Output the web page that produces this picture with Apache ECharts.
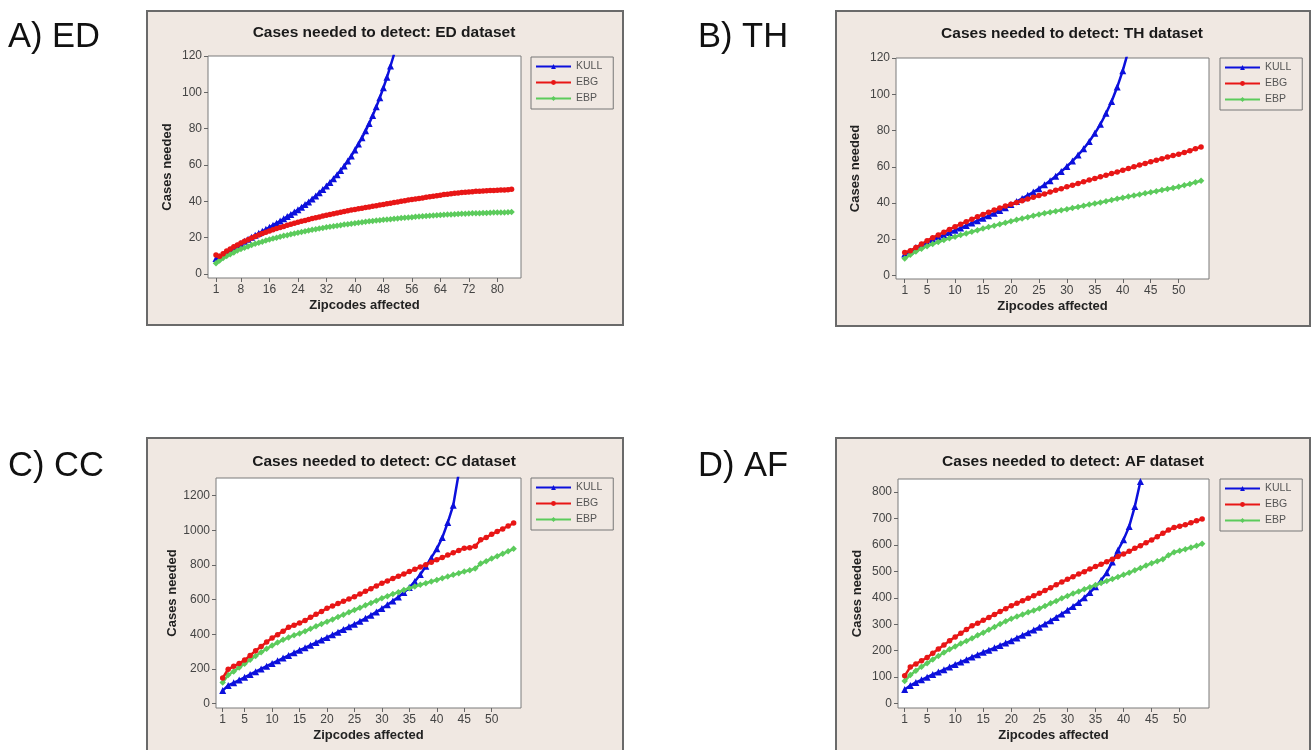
<!DOCTYPE html>
<html><head><meta charset="utf-8">
<script src="https://cdn.jsdelivr.net/npm/echarts@6.0.0/dist/echarts.min.js"></script>
<style>html,body{margin:0;padding:0;background:#fff}#c{width:1312px;height:750px}</style>
</head><body><div id="c"></div><script>
// ---------------- data ----------------
const seriesNames = ['KULL', 'EBG', 'EBP'];
const panelTitles = ['Cases needed to detect: ED dataset', 'Cases needed to detect: TH dataset',
  'Cases needed to detect: CC dataset', 'Cases needed to detect: AF dataset'];
const panelLabels = ['A) ED', 'B) TH', 'C) CC', 'D) AF'];
const xTitle = 'Zipcodes affected';
const yTitle = 'Cases needed';

const xTicksA = [1, 8, 16, 24, 32, 40, 48, 56, 64, 72, 80];
const xTicksOther = [1, 5, 10, 15, 20, 25, 30, 35, 40, 45, 50];
const yTicksA = [0, 20, 40, 60, 80, 100, 120];
const yTicksB = [0, 20, 40, 60, 80, 100, 120];
const yTicksC = [0, 200, 400, 600, 800, 1000, 1200];
const yTicksD = [0, 100, 200, 300, 400, 500, 600, 700, 800];

// A) ED
const kullA = [8.5, 9.5, 10.8, 12, 13.2, 14.4, 15.6, 16.8, 18, 19.1, 20.2, 21.3, 22.4, 23.5, 24.6, 25.7, 26.9, 28, 29.2, 30.4,
  31.6, 32.8, 34.1, 35.4, 36.8, 38.2, 39.7, 41.3, 43, 44.7, 46.5, 48.4, 50.4, 52.5, 54.7, 57, 59.5, 62.2, 65, 68.2,
  71.5, 75, 78.8, 82.9, 87.3, 92, 97, 102.5, 108.3, 114.5, 121];
const ebgA = [10.5, 9.8, 11.2, 12.6, 13.8, 15, 16, 17, 18, 18.9, 19.8, 20.7, 21.5, 22.3, 23, 23.7, 24.4, 25, 25.6, 26.2,
  26.8, 27.4, 27.9, 28.5, 29, 29.5, 30, 30.5, 31, 31.4, 31.9, 32.3, 32.8, 33.2, 33.6, 34, 34.4, 34.8, 35.2, 35.5,
  35.9, 36.2, 36.6, 36.9, 37.3, 37.6, 38, 38.3, 38.7, 39, 39.4, 39.7, 40, 40.3, 40.7, 41, 41.3, 41.6, 41.9, 42.2,
  42.5, 42.8, 43.1, 43.4, 43.7, 43.9, 44.2, 44.4, 44.6, 44.8, 45, 45.2, 45.3, 45.5, 45.6, 45.7, 45.8, 45.9, 46, 46.1,
  46.2, 46.3, 46.4, 46.6];
const ebpA = [5.9, 7.5, 8.8, 9.9, 10.9, 11.9, 12.9, 13.8, 14.5, 15.2, 15.9, 16.6, 17.2, 17.8, 18.4, 19, 19.5, 20, 20.5, 21,
  21.4, 21.9, 22.3, 22.7, 23.1, 23.5, 23.9, 24.3, 24.6, 25, 25.3, 25.7, 26, 26.3, 26.6, 26.9, 27.2, 27.4, 27.7, 28,
  28.2, 28.5, 28.7, 29, 29.2, 29.4, 29.6, 29.8, 30, 30.2, 30.4, 30.6, 30.8, 31, 31.1, 31.3, 31.5, 31.6, 31.8, 31.9,
  32.1, 32.2, 32.4, 32.5, 32.6, 32.7, 32.8, 32.9, 33, 33.1, 33.2, 33.3, 33.4, 33.4, 33.5, 33.6, 33.6, 33.7, 33.8, 33.8,
  33.9, 33.9, 34, 34.1];

// B) TH
const kullB = [12, 13.5, 15.5, 17, 18.5, 20, 21.3, 22.5, 23.8, 25, 26.3, 27.7, 29, 30.3, 31.7, 33, 34.5, 36, 37.5, 39.2,
  40.9, 42.6, 44.3, 46.1, 48, 50.1, 52.4, 54.8, 57.4, 60.2, 63.2, 66.5, 70, 74, 78.5, 83.5, 89.5, 96, 104, 113, 124];
const ebgB = [12.8, 13.8, 15.5, 17.5, 19.3, 21, 22.5, 24, 25.5, 27, 28.4, 29.8, 31.1, 32.5, 33.8, 35, 36.2, 37.3, 38.4, 39.4,
  40.4, 41.3, 42.3, 43.2, 44.2, 45.1, 46.1, 47.1, 48, 49, 49.9, 50.8, 51.8, 52.7, 53.6, 54.5, 55.4, 56.3, 57.2, 58.2,
  59.1, 60, 61, 61.9, 62.8, 63.7, 64.5, 65.4, 66.2, 67, 67.9, 68.9, 70, 71];
const ebpB = [9.5, 11.5, 13.3, 14.9, 16.3, 17.5, 18.6, 19.7, 20.6, 21.5, 22.4, 23.3, 24.2, 25.1, 26, 26.8, 27.6, 28.4, 29.2, 30,
  30.8, 31.5, 32.3, 33.1, 33.8, 34.4, 35, 35.6, 36.1, 36.7, 37.3, 37.9, 38.6, 39.2, 39.8, 40.4, 41.1, 41.7, 42.4, 43,
  43.6, 44.2, 44.8, 45.4, 46, 46.6, 47.2, 47.8, 48.4, 49, 49.8, 50.6, 51.5, 52.3];

// C) CC
const kullC = [75, 105, 120, 136, 152, 168, 184, 200, 216, 232, 247, 263, 278, 293, 308, 322, 337, 352, 367, 382,
  397, 412, 428, 443, 458, 475, 492, 510, 529, 549, 570, 592, 615, 641, 670, 705, 745, 792, 842, 893,
  958, 1045, 1145, 1330];
const ebgC = [148, 198, 215, 232, 251, 278, 305, 330, 355, 378, 398, 418, 440, 452, 465, 480, 498, 515, 532, 550,
  563, 577, 590, 604, 617, 632, 648, 663, 679, 695, 708, 722, 735, 748, 762, 775, 789, 802, 816, 830,
  843, 857, 870, 884, 897, 900, 908, 945, 958, 978, 993, 1008, 1025, 1042];
const ebpC = [122, 165, 185, 208, 230, 253, 275, 296, 316, 335, 352, 368, 382, 394, 405, 418, 432, 446, 460, 473,
  486, 500, 513, 527, 540, 553, 567, 581, 594, 608, 620, 632, 643, 655, 666, 676, 686, 695, 705, 714,
  724, 733, 743, 752, 762, 770, 779, 808, 822, 837, 851, 865, 879, 893];

// D) AF
const kullD = [53, 68, 80, 90, 100, 110, 119, 128, 138, 148, 157, 166, 176, 185, 194, 202, 211, 220, 229, 238,
  248, 258, 268, 278, 289, 301, 313, 326, 339, 353, 367, 382, 400, 420, 442, 466, 495, 535, 580, 620,
  670, 745, 840];
const ebgD = [105, 138, 150, 162, 174, 190, 206, 222, 238, 252, 266, 280, 294, 304, 315, 326, 337, 348, 359, 370,
  379, 389, 398, 408, 417, 428, 438, 449, 460, 470, 480, 490, 499, 509, 518, 527, 536, 546, 556, 566,
  576, 587, 597, 608, 619, 631, 644, 656, 666, 671, 676, 684, 691, 698];
const ebpD = [85, 108, 124, 139, 153, 167, 180, 193, 205, 216, 227, 237, 247, 258, 268, 279, 290, 301, 311, 321,
  329, 337, 345, 352, 360, 369, 379, 388, 398, 407, 416, 424, 432, 440, 448, 456, 464, 471, 479, 487,
  495, 504, 513, 522, 531, 538, 546, 561, 572, 578, 584, 590, 597, 604];

// ---------------- layout / style ----------------
const FONT = 'Liberation Sans';
const panels = [
  {grid: {left: 208, top: 56, width: 313, height: 222}, x: [-1.25, 86.65], y: [-2.2, 120], xt: xTicksA, yt: yTicksA,
   frame: [147, 11, 476, 314], title: [384, 33], label: [8, 37], legend: [531, 57], data: [kullA, ebgA, ebpA]},
  {grid: {left: 896, top: 58, width: 313, height: 221}, x: [-0.56, 55.42], y: [-1.8, 120], xt: xTicksOther, yt: yTicksB,
   frame: [836, 11, 474, 315], title: [1072, 34], label: [698, 37], legend: [1220, 58], data: [kullB, ebgB, ebpB]},
  {grid: {left: 216, top: 478, width: 305, height: 230}, x: [-0.22, 55.34], y: [-25.5, 1302], xt: xTicksOther, yt: yTicksC,
   frame: [147, 438, 476, 340], title: [384, 462], label: [8, 466], legend: [531, 478], data: [kullC, ebgC, ebpC]},
  {grid: {left: 898, top: 479, width: 311, height: 229}, x: [-0.19, 55.22], y: [-16.7, 849.3], xt: xTicksOther, yt: yTicksD,
   frame: [836, 438, 474, 340], title: [1073, 462], label: [698, 466], legend: [1220, 479], data: [kullD, ebgD, ebpD]}
];
const sty = {
  KULL: {color: '#0c10dc', symbol: 'triangle', size: 7, z: 2},
  EBG: {color: '#e81616', symbol: 'circle', size: 5.5, z: 4},
  EBP: {color: '#5ccb5c', symbol: 'diamond', size: 6.5, z: 3}
};

const option = {
  animation: false,
  backgroundColor: '#ffffff',
  title: [], legend: [], grid: [], xAxis: [], yAxis: [], series: [], graphic: []
};

panels.forEach((p, i) => {
  option.graphic.push({type: 'rect', z: -10, silent: true,
    shape: {x: p.frame[0], y: p.frame[1], width: p.frame[2], height: p.frame[3]},
    style: {fill: '#f0e8e2', stroke: '#6a6a6a', lineWidth: 2}});
  option.title.push({text: panelTitles[i], left: p.title[0], top: p.title[1], textAlign: 'center', textVerticalAlign: 'middle', padding: 0,
    textStyle: {fontFamily: FONT, fontSize: 15.5, fontWeight: 'bold', color: '#1a1a1a'}});
  option.title.push({text: panelLabels[i], left: p.label[0], top: p.label[1], textAlign: 'left', textVerticalAlign: 'middle', padding: 0,
    textStyle: {fontFamily: FONT, fontSize: 34.5, fontWeight: 'normal', color: '#111'}});
  option.grid.push(Object.assign({show: true, backgroundColor: '#ffffff', borderColor: '#7a7a7a', borderWidth: 1, containLabel: false}, p.grid));
  option.xAxis.push({type: 'value', gridIndex: i, min: p.x[0], max: p.x[1],
    name: xTitle, nameLocation: 'middle', nameGap: 21,
    nameTextStyle: {fontFamily: FONT, fontSize: 13, fontWeight: 'bold', color: '#222'},
    axisLine: {show: false, onZero: false}, splitLine: {show: false},
    axisTick: {show: true, customValues: p.xt, length: 4, lineStyle: {color: '#666'}},
    axisLabel: {customValues: p.xt, margin: 6, fontFamily: FONT, fontSize: 12, color: '#444', formatter: v => String(v)}});
  option.yAxis.push({type: 'value', gridIndex: i, min: p.y[0], max: p.y[1],
    name: yTitle, nameLocation: 'middle', nameGap: 34,
    nameTextStyle: {fontFamily: FONT, fontSize: 13, fontWeight: 'bold', color: '#222'},
    axisLine: {show: false, onZero: false}, splitLine: {show: false},
    axisTick: {show: true, customValues: p.yt, length: 4, lineStyle: {color: '#666'}},
    axisLabel: {customValues: p.yt, margin: 6, fontFamily: FONT, fontSize: 12, color: '#444', formatter: v => String(v)}});
  option.legend.push({orient: 'vertical', left: p.legend[0], top: p.legend[1], data: seriesNames,
    itemWidth: 35, itemHeight: 6, itemGap: 5, padding: [4, 11, 5, 4],
    borderColor: '#777', borderWidth: 1, backgroundColor: '#f0e8e2',
    textStyle: {fontFamily: FONT, fontSize: 10.5, color: '#555'}});
  seriesNames.forEach((n, k) => {
    const s = sty[n];
    option.series.push({type: 'line', name: n, xAxisIndex: i, yAxisIndex: i, z: s.z, clip: true,
      data: p.data[k].map((v, j) => [j + 1, v]),
      symbol: s.symbol, symbolSize: s.size, showSymbol: true,
      lineStyle: {width: 2.5, color: s.color}, itemStyle: {color: s.color}});
  });
});

const chart = echarts.init(document.getElementById('c'), null, {renderer: 'canvas'});
chart.setOption(option);
</script></body></html>
